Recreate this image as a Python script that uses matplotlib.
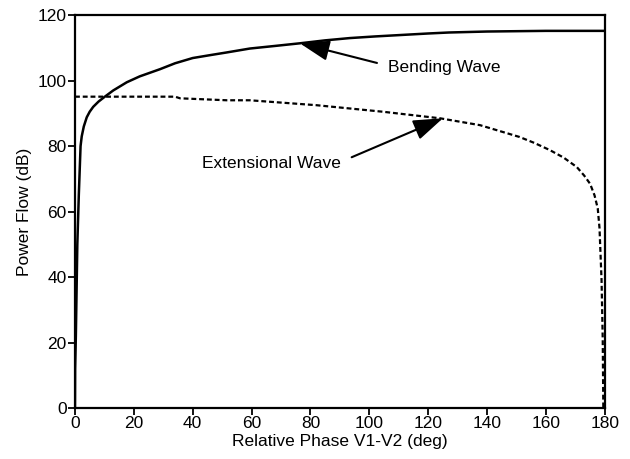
import matplotlib
matplotlib.use("Agg")
import matplotlib.pyplot as plt

plt.rcParams['font.family'] = ['Liberation Sans', 'DejaVu Sans']

# Bending wave (solid)
bend_x = [0, 0.05, 0.3, 0.8, 1.3, 1.9, 2.3, 3, 4, 5, 6.2, 8, 10, 13, 17.6, 22, 28.9,
          34, 40, 46, 51.5, 59.4, 68, 76.4, 85, 93.4, 102, 110, 120, 127, 140, 160, 180]
bend_y = [0, 12, 22, 50, 65, 80, 83, 86, 88.8, 90.5, 92, 93.6, 95, 97, 99.5, 101.3, 103.5,
          105.3, 106.9, 107.8, 108.6, 109.8, 110.6, 111.4, 112.3, 113, 113.5, 113.9, 114.4,
          114.7, 115, 115.2, 115.2]

# Extensional wave (dashed)
ext_x = [0, 34, 35.7, 51.6, 59.4, 82, 104.6, 124, 137.6, 151, 156, 161.3, 166, 170.5,
         173, 175, 176.5, 177.6, 178.2, 178.9, 179.3, 179.5]
ext_y = [95.1, 95.1, 94.6, 94.0, 94.0, 92.5, 90.5, 88.5, 86.4, 82.8, 81, 78.8, 76.5, 73.6,
         71, 68.5, 65, 61, 55, 39, 20.8, 0]

x_ticks = [0, 20, 40, 60, 80, 100, 120, 140, 160, 180]
y_ticks = [0, 20, 40, 60, 80, 100, 120]

fig = plt.figure(figsize=(6.3, 4.59), dpi=100)
ax = fig.add_axes([0.119, 0.111, 0.841, 0.856])

ax.plot(bend_x, bend_y, color='black', lw=1.8, solid_joinstyle='round')
ax.plot(ext_x, ext_y, color='black', lw=1.6, linestyle=(0, (2.2, 1.3)))

ax.set_xlim(0, 180)
ax.set_ylim(0, 120)
ax.set_xticks(x_ticks)
ax.set_yticks(y_ticks)
ax.tick_params(direction='out', length=5, width=1.3, labelsize=12.5, pad=1, colors='black')
for s in ax.spines.values():
    s.set_linewidth(1.6)

ax.set_xlabel('Relative Phase V1-V2 (deg)', fontsize=12.5, labelpad=2)
ax.set_ylabel('Power Flow (dB)', fontsize=12.5, labelpad=4)

ap = dict(arrowstyle='-|>,head_length=1.3,head_width=0.45', lw=1.5, color='black',
          mutation_scale=14, shrinkA=0, shrinkB=0)
ax.annotate('', xy=(76.4, 111.4), xytext=(102.6, 105.4), arrowprops=ap)
ax.text(106.5, 104.0, 'Bending Wave', fontsize=12.5, ha='left', va='center')
ax.annotate('', xy=(125, 88.5), xytext=(94, 76.6), arrowprops=ap)
ax.text(43, 74.7, 'Extensional Wave', fontsize=12.5, ha='left', va='center')

fig.savefig('out.png', dpi=100)
